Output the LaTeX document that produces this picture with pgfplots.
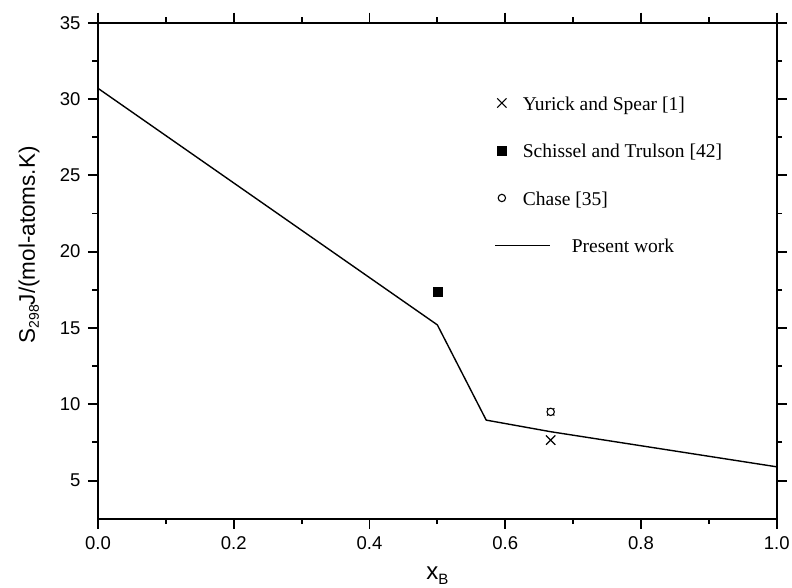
\documentclass[border=0pt]{standalone}
\usepackage{fontspec}
\setmainfont{Liberation Sans}
\newfontfamily\legfont{Liberation Serif}
\usepackage{pgfplots}
\pgfplotsset{compat=1.18}
\pgfplotsset{
  markimg/.style={legend image code/.code={%
    \path[draw=none, fill=none] (-6.7pt,-23.75pt) rectangle (21pt,23.75pt);
    \draw[##1] plot coordinates {(0pt,2.5pt)};}},
  lineimg/.style={legend image code/.code={%
    \path[draw=none, fill=none] (-6.7pt,-23.75pt) rectangle (21pt,23.75pt);
    \pgfinterruptboundingbox
    \draw[##1] (-6.7pt,2.5pt) -- (48.3pt,2.5pt);
    \endpgfinterruptboundingbox}},
}

\begin{document}
\begin{tikzpicture}
% page = 792 x 587 pt, axis box lower-left at (0,0)
\path[use as bounding box] (-98pt,-68.3pt) rectangle (694pt,518.7pt);
\begin{axis}[
  scale only axis,
  width=678.7pt, height=496pt,
  at={(0pt,0pt)}, anchor=south west,
  xmin=0, xmax=1, ymin=2.5, ymax=35,
  xtick={0,0.2,0.4,0.6,0.8,1},
  ytick={5,10,15,20,25,30,35},
  minor x tick num=1, minor y tick num=1,
  tick align=outside,
  xticklabel pos=left, yticklabel pos=left,
  major tick length=10pt, minor tick length=5.5pt,
  axis line style={line width=1.9pt},
  major tick style={black, line width=1.9pt},
  minor tick style={black, line width=1.9pt},
  /pgf/number format/assume math mode=true,
  xticklabel style={yshift=-4pt, /pgf/number format/fixed,
    /pgf/number format/fixed zerofill, /pgf/number format/precision=1},
  yticklabel style={xshift=-4pt},
  tick label style={font=\fontsize{18.5}{20}\selectfont},
  xlabel={x\raisebox{-5pt}{\fontsize{15}{15}\selectfont B}},
  xlabel style={at={(axis description cs:0.5,0)}, anchor=base,
    yshift=-61pt, font=\fontsize{24}{26}\selectfont},
  ylabel={S\raisebox{-4pt}{\fontsize{14}{14}\selectfont 298}J/(mol-atoms.K)},
  ylabel style={at={(axis description cs:0,0.552)}, anchor=center,
    yshift=69pt, font=\fontsize{22.5}{24}\selectfont},
  legend cell align=left,
  legend style={at={(axis description cs:0.5849,0.8814)}, anchor=north west,
    draw=none, fill=none, inner sep=0pt, row sep=0pt,
    nodes={inner sep=0pt, text height=14pt, text depth=4.5pt},
    font=\legfont\fontsize{19.5}{22}\selectfont},
  markimg,
]
\addplot[only marks, mark=x, mark size=6.6pt, line width=1.2pt, black]
  coordinates {(0.667,7.65)};
\addlegendentry{Yurick and Spear [1]}
\addplot[only marks, mark=square*, mark size=4.6pt, black]
  coordinates {(0.5,17.35)};
\addlegendentry{Schissel and Trulson [42]}
\addplot[only marks, mark=x, mark size=5.1pt, line width=1.1pt, black, forget plot]
  coordinates {(0.667,9.5)};
\addplot[only marks, mark=*, mark size=3.7pt, line width=1.1pt, black,
  mark options={fill=white}]
  coordinates {(0.667,9.5)};
\addlegendentry{Chase [35]}
\addplot[black, line width=1.4pt, mark=none, lineimg]
  coordinates {(0,30.7)(0.5,15.2)(0.572,8.96)(0.667,8.2)(1,5.9)};
\addlegendentry{\hspace{49pt}Present work}
\end{axis}
\end{tikzpicture}
\end{document}
